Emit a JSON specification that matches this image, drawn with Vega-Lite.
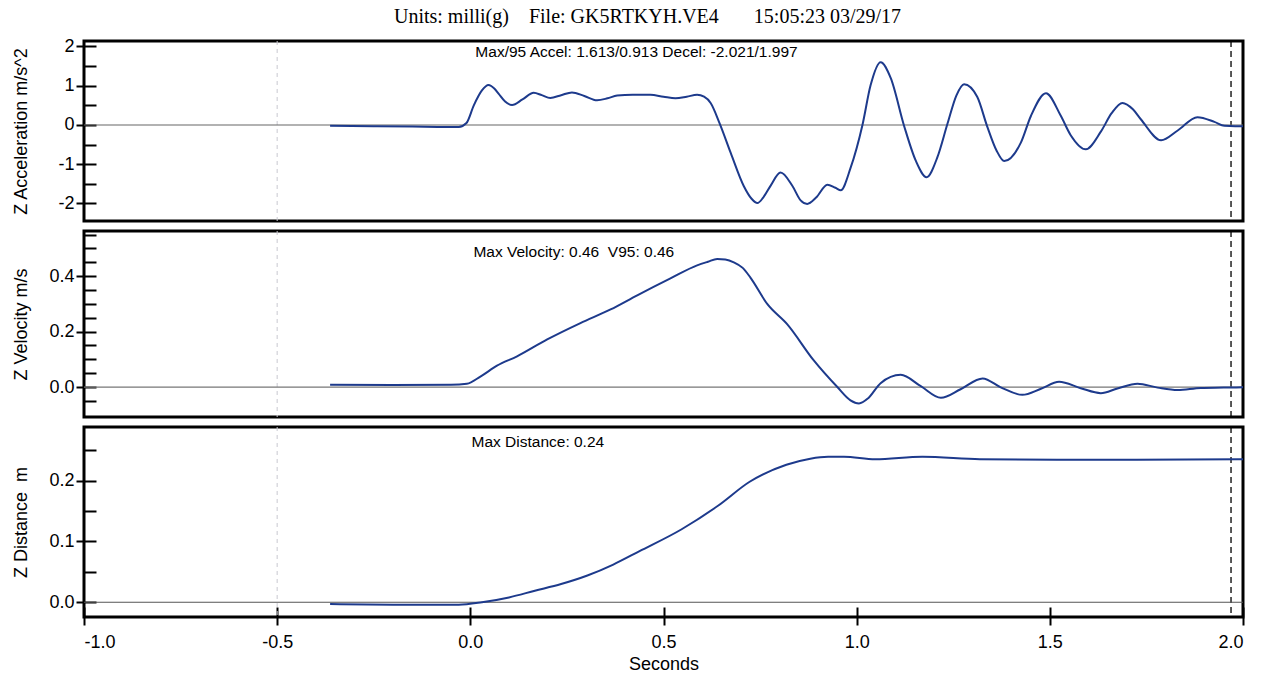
{
  "$schema": "https://vega.github.io/schema/vega-lite/v6.json",
  "background": "white",
  "padding": {"left": 10, "top": 6, "right": 25, "bottom": 5},
  "bounds": "flush",
  "spacing": 10,
  "title": {
    "text": "Units: milli(g)\u00a0\u00a0\u00a0\u00a0File: GK5RTKYH.VE4\u00a0\u00a0\u00a0\u00a0\u00a0\u00a0\u00a015:05:23 03/29/17",
    "font": "Liberation Serif", "fontSize": 20, "fontWeight": "normal", "color": "black",
    "anchor": "middle", "offset": 9, "dx": 18
  },
  "config": {
    "view": {"stroke": "black", "strokeWidth": 3},
    "font": "Liberation Sans",
    "axis": {
      "labelFont": "Liberation Sans", "labelFontSize": 18, "labelColor": "black",
      "tickColor": "black", "tickWidth": 2, "grid": false, "domain": false,
      "titleFont": "Liberation Sans", "titleFontWeight": "normal", "titleFontSize": 18, "titleColor": "black",
      "labelExpr": "replace(datum.label, '\u2212', '-')"
    }
  },
  "datasets": {
    "one": [{}],
    "acc": [
      {"t": -0.363, "v": -0.02}, {"t": -0.25, "v": -0.03}, {"t": -0.15, "v": -0.04}, {"t": -0.06, "v": -0.05},
      {"t": -0.03, "v": -0.05}, {"t": -0.01, "v": 0.05}, {"t": 0.009, "v": 0.5}, {"t": 0.03, "v": 0.88},
      {"t": 0.047, "v": 1.02}, {"t": 0.062, "v": 0.93}, {"t": 0.073, "v": 0.8}, {"t": 0.09, "v": 0.6},
      {"t": 0.108, "v": 0.51}, {"t": 0.135, "v": 0.65}, {"t": 0.164, "v": 0.82}, {"t": 0.185, "v": 0.76},
      {"t": 0.207, "v": 0.69}, {"t": 0.235, "v": 0.76}, {"t": 0.263, "v": 0.83}, {"t": 0.295, "v": 0.74},
      {"t": 0.328, "v": 0.63}, {"t": 0.355, "v": 0.68}, {"t": 0.38, "v": 0.75}, {"t": 0.42, "v": 0.77},
      {"t": 0.466, "v": 0.77}, {"t": 0.5, "v": 0.72}, {"t": 0.531, "v": 0.68}, {"t": 0.56, "v": 0.72},
      {"t": 0.587, "v": 0.77}, {"t": 0.605, "v": 0.72}, {"t": 0.622, "v": 0.56}, {"t": 0.645, "v": 0.05},
      {"t": 0.674, "v": -0.71}, {"t": 0.708, "v": -1.56}, {"t": 0.728, "v": -1.88}, {"t": 0.743, "v": -1.99},
      {"t": 0.758, "v": -1.85}, {"t": 0.777, "v": -1.55}, {"t": 0.803, "v": -1.21}, {"t": 0.833, "v": -1.54},
      {"t": 0.855, "v": -1.92}, {"t": 0.872, "v": -2.01}, {"t": 0.895, "v": -1.85}, {"t": 0.924, "v": -1.52},
      {"t": 0.945, "v": -1.6}, {"t": 0.959, "v": -1.66}, {"t": 0.984, "v": -1.1}, {"t": 1.015, "v": 0.0},
      {"t": 1.036, "v": 1.01}, {"t": 1.062, "v": 1.6}, {"t": 1.088, "v": 1.2}, {"t": 1.123, "v": -0.03},
      {"t": 1.153, "v": -0.91}, {"t": 1.181, "v": -1.33}, {"t": 1.209, "v": -0.82}, {"t": 1.235, "v": 0.03},
      {"t": 1.258, "v": 0.75}, {"t": 1.278, "v": 1.04}, {"t": 1.312, "v": 0.72}, {"t": 1.338, "v": -0.04},
      {"t": 1.362, "v": -0.65}, {"t": 1.382, "v": -0.92}, {"t": 1.425, "v": -0.45}, {"t": 1.451, "v": 0.23},
      {"t": 1.49, "v": 0.81}, {"t": 1.528, "v": 0.24}, {"t": 1.554, "v": -0.26}, {"t": 1.593, "v": -0.62},
      {"t": 1.632, "v": -0.17}, {"t": 1.66, "v": 0.3}, {"t": 1.688, "v": 0.56}, {"t": 1.715, "v": 0.4},
      {"t": 1.736, "v": 0.14}, {"t": 1.788, "v": -0.39}, {"t": 1.831, "v": -0.14}, {"t": 1.882, "v": 0.2},
      {"t": 1.926, "v": 0.08}, {"t": 1.952, "v": -0.02}, {"t": 1.98, "v": -0.03}, {"t": 2.0, "v": -0.03}
    ],
    "vel": [
      {"t": -0.363, "v": 0.008}, {"t": -0.2, "v": 0.007}, {"t": -0.05, "v": 0.008}, {"t": -0.009, "v": 0.012},
      {"t": 0.026, "v": 0.038}, {"t": 0.069, "v": 0.077}, {"t": 0.121, "v": 0.111}, {"t": 0.199, "v": 0.172},
      {"t": 0.285, "v": 0.231}, {"t": 0.363, "v": 0.28}, {"t": 0.432, "v": 0.331}, {"t": 0.518, "v": 0.392},
      {"t": 0.587, "v": 0.439}, {"t": 0.615, "v": 0.452}, {"t": 0.639, "v": 0.462}, {"t": 0.66, "v": 0.46},
      {"t": 0.682, "v": 0.45}, {"t": 0.705, "v": 0.43}, {"t": 0.725, "v": 0.395}, {"t": 0.769, "v": 0.299},
      {"t": 0.82, "v": 0.227}, {"t": 0.889, "v": 0.096}, {"t": 0.95, "v": 0.0}, {"t": 0.984, "v": -0.048},
      {"t": 1.006, "v": -0.059}, {"t": 1.03, "v": -0.04}, {"t": 1.062, "v": 0.014}, {"t": 1.114, "v": 0.044},
      {"t": 1.166, "v": 0.003}, {"t": 1.218, "v": -0.039}, {"t": 1.269, "v": -0.008}, {"t": 1.326, "v": 0.031},
      {"t": 1.373, "v": -0.001}, {"t": 1.429, "v": -0.028}, {"t": 1.477, "v": -0.006}, {"t": 1.524, "v": 0.019},
      {"t": 1.58, "v": -0.004}, {"t": 1.632, "v": -0.022}, {"t": 1.675, "v": -0.005}, {"t": 1.727, "v": 0.012},
      {"t": 1.779, "v": -0.002}, {"t": 1.831, "v": -0.011}, {"t": 1.891, "v": -0.003}, {"t": 1.95, "v": -0.002},
      {"t": 2.0, "v": -0.001}
    ],
    "dist": [
      {"t": -0.363, "v": -0.003}, {"t": -0.2, "v": -0.004}, {"t": -0.03, "v": -0.004}, {"t": 0.03, "v": 0.0},
      {"t": 0.1, "v": 0.008}, {"t": 0.167, "v": 0.019}, {"t": 0.235, "v": 0.03}, {"t": 0.303, "v": 0.044},
      {"t": 0.37, "v": 0.062}, {"t": 0.438, "v": 0.084}, {"t": 0.547, "v": 0.12}, {"t": 0.642, "v": 0.159},
      {"t": 0.723, "v": 0.198}, {"t": 0.818, "v": 0.226}, {"t": 0.88, "v": 0.236}, {"t": 0.926, "v": 0.239},
      {"t": 0.967, "v": 0.239}, {"t": 1.048, "v": 0.235}, {"t": 1.17, "v": 0.239}, {"t": 1.319, "v": 0.235},
      {"t": 1.522, "v": 0.234}, {"t": 1.725, "v": 0.234}, {"t": 2.0, "v": 0.235}
    ]
  },
  "vconcat": [
    {
      "width": 1159, "height": 180,
      "resolve": {"axis": {"y": "independent"}},
      "layer": [
        {"data": {"name": "one"},
         "mark": {"type": "rule", "color": "#c8c8d0", "strokeWidth": 1, "strokeDash": [4, 4]},
         "encoding": {"x": {"datum": -0.5, "type": "quantitative", "scale": {"domain": [-1, 2], "nice": false, "zero": false}, "axis": null}}},
        {"data": {"name": "one"},
         "mark": {"type": "rule", "color": "black", "strokeWidth": 1.3, "strokeDash": [6, 4]},
         "encoding": {"x": {"datum": 1.969, "type": "quantitative", "scale": {"domain": [-1, 2], "nice": false, "zero": false}, "axis": null}}},
        {"data": {"name": "one"},
         "mark": {"type": "rule", "color": "#666666", "strokeWidth": 1.2},
         "encoding": {"y": {"datum": 0, "type": "quantitative", "scale": {"domain": [-2.446, 2.14], "nice": false, "zero": false},
           "axis": {"orient": "left", "values": [-2, -1.5, -1, -0.5, 0, 0.5, 1, 1.5, 2], "tickSize": -12, "labels": false, "title": null}}}},
        {"data": {"name": "acc"},
         "mark": {"type": "line", "color": "#1d3a8c", "strokeWidth": 2, "interpolate": "monotone"},
         "encoding": {
           "x": {"field": "t", "type": "quantitative", "scale": {"domain": [-1, 2], "nice": false, "zero": false}, "axis": null},
           "y": {"field": "v", "type": "quantitative", "scale": {"domain": [-2.446, 2.14], "nice": false, "zero": false},
             "axis": {"orient": "left", "values": [-2, -1, 0, 1, 2], "tickSize": 8, "labelPadding": 2, "title": "Z Acceleration m/s^2", "titleX": -54, "titleBaseline": "bottom"}}
         }},
        {"data": {"name": "one"},
         "mark": {"type": "text", "text": "Max/95 Accel: 1.613/0.913 Decel: -2.021/1.997", "align": "left", "baseline": "middle", "fontSize": 15.5, "font": "Liberation Sans", "color": "black"},
         "encoding": {"x": {"datum": 0.013, "type": "quantitative", "axis": null}, "y": {"datum": 1.86, "type": "quantitative", "axis": null}}}
      ]
    },
    {
      "width": 1159, "height": 186,
      "resolve": {"axis": {"y": "independent"}},
      "layer": [
        {"data": {"name": "one"},
         "mark": {"type": "rule", "color": "#c8c8d0", "strokeWidth": 1, "strokeDash": [4, 4]},
         "encoding": {"x": {"datum": -0.5, "type": "quantitative", "scale": {"domain": [-1, 2], "nice": false, "zero": false}, "axis": null}}},
        {"data": {"name": "one"},
         "mark": {"type": "rule", "color": "black", "strokeWidth": 1.3, "strokeDash": [6, 4]},
         "encoding": {"x": {"datum": 1.969, "type": "quantitative", "scale": {"domain": [-1, 2], "nice": false, "zero": false}, "axis": null}}},
        {"data": {"name": "one"},
         "mark": {"type": "rule", "color": "#777777", "strokeWidth": 1.2},
         "encoding": {"y": {"datum": 0, "type": "quantitative", "scale": {"domain": [-0.108, 0.563], "nice": false, "zero": false},
           "axis": {"orient": "left", "values": [-0.05, 0, 0.05, 0.1, 0.15, 0.2, 0.25, 0.3, 0.35, 0.4, 0.45, 0.5, 0.55], "tickSize": -12, "labels": false, "title": null}}}},
        {"data": {"name": "vel"},
         "mark": {"type": "line", "color": "#1d3a8c", "strokeWidth": 2, "interpolate": "monotone"},
         "encoding": {
           "x": {"field": "t", "type": "quantitative", "scale": {"domain": [-1, 2], "nice": false, "zero": false}, "axis": null},
           "y": {"field": "v", "type": "quantitative", "scale": {"domain": [-0.108, 0.563], "nice": false, "zero": false},
             "axis": {"orient": "left", "values": [0, 0.2, 0.4], "format": ".1f", "tickSize": 8, "labelPadding": 2, "title": "Z Velocity m/s", "titleX": -54, "titleBaseline": "bottom"}}
         }},
        {"data": {"name": "one"},
         "mark": {"type": "text", "text": "Max Velocity: 0.46\u00a0\u00a0V95: 0.46", "align": "left", "baseline": "middle", "fontSize": 15.5, "font": "Liberation Sans", "color": "black"},
         "encoding": {"x": {"datum": 0.008, "type": "quantitative", "axis": null}, "y": {"datum": 0.488, "type": "quantitative", "axis": null}}}
      ]
    },
    {
      "width": 1159, "height": 190,
      "resolve": {"axis": {"y": "independent", "x": "independent"}},
      "layer": [
        {"data": {"name": "one"},
         "mark": {"type": "rule", "color": "#c8c8d0", "strokeWidth": 1, "strokeDash": [4, 4]},
         "encoding": {"x": {"datum": -0.5, "type": "quantitative", "scale": {"domain": [-1, 2], "nice": false, "zero": false},
           "axis": {"orient": "bottom", "values": [-1, -0.5, 0, 0.5, 1, 1.5, 2], "tickSize": -10, "labels": false, "title": null}}}},
        {"data": {"name": "one"},
         "mark": {"type": "rule", "color": "black", "strokeWidth": 1.3, "strokeDash": [6, 4]},
         "encoding": {"x": {"datum": 1.969, "type": "quantitative", "scale": {"domain": [-1, 2], "nice": false, "zero": false}, "axis": null}}},
        {"data": {"name": "one"},
         "mark": {"type": "rule", "color": "#555555", "strokeWidth": 1.2},
         "encoding": {"y": {"datum": 0, "type": "quantitative", "scale": {"domain": [-0.0242, 0.288], "nice": false, "zero": false},
           "axis": {"orient": "left", "values": [0, 0.05, 0.1, 0.15, 0.2, 0.25], "tickSize": -12, "labels": false, "title": null}}}},
        {"data": {"name": "dist"},
         "mark": {"type": "line", "color": "#1d3a8c", "strokeWidth": 2, "interpolate": "monotone"},
         "encoding": {
           "x": {"field": "t", "type": "quantitative", "scale": {"domain": [-1, 2], "nice": false, "zero": false},
             "axis": {"orient": "bottom", "values": [-1, -0.5, 0, 0.5, 1, 1.5, 2], "format": ".1f", "tickSize": 8, "labelPadding": 8, "title": "Seconds", "titlePadding": 4}},
           "y": {"field": "v", "type": "quantitative", "scale": {"domain": [-0.0242, 0.288], "nice": false, "zero": false},
             "axis": {"orient": "left", "values": [0, 0.1, 0.2], "format": ".1f", "tickSize": 8, "labelPadding": 2, "title": "Z Distance\u00a0\u00a0m", "titleX": -54, "titleBaseline": "bottom"}}
         }},
        {"data": {"name": "one"},
         "mark": {"type": "text", "text": "Max Distance: 0.24", "align": "left", "baseline": "middle", "fontSize": 15.5, "font": "Liberation Sans", "color": "black"},
         "encoding": {"x": {"datum": 0.003, "type": "quantitative", "axis": null}, "y": {"datum": 0.264, "type": "quantitative", "axis": null}}}
      ]
    }
  ]
}
